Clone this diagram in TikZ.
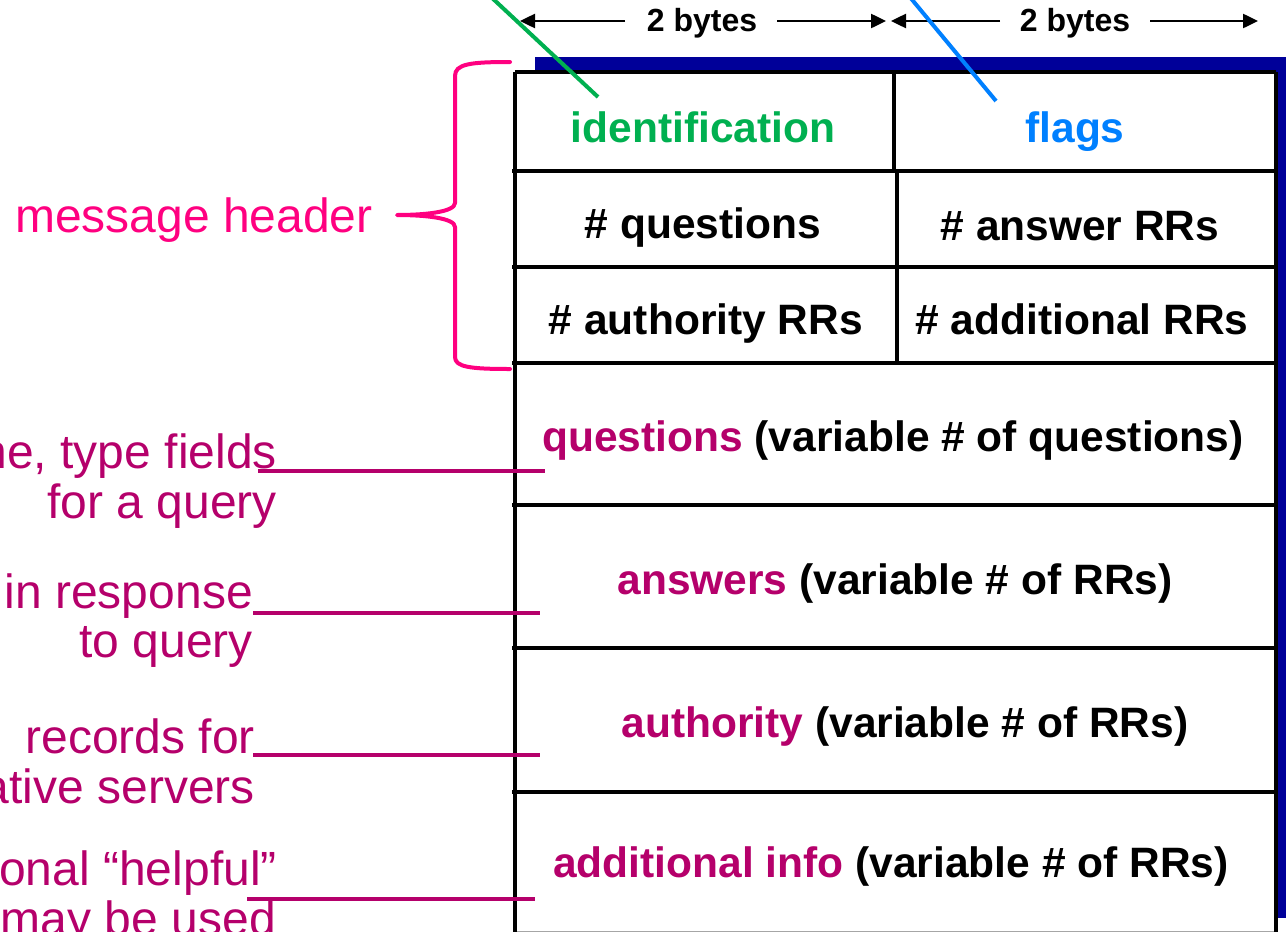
\documentclass[tikz,border=0pt]{standalone}
\usepackage{fontspec}
\setmainfont{Liberation Sans}
\usetikzlibrary{arrows.meta}

\definecolor{hdrpink}{RGB}{255,0,128}
\definecolor{secmag}{RGB}{181,0,107}
\definecolor{idgreen}{RGB}{0,176,80}
\definecolor{flagblue}{RGB}{0,128,255}
\definecolor{shadownavy}{RGB}{0,0,153}

\newcommand\fieldfont{\fontsize{42.5}{50}\selectfont\bfseries}
\newcommand\notefont{\fontsize{48}{55}\selectfont}
\newcommand\sizefont{\fontsize{32}{38}\selectfont\bfseries}

\tikzset{
  field/.style={font=\fieldfont, anchor=base, inner sep=0pt},
  note/.style={font=\notefont, text=secmag, anchor=base east, inner sep=0pt},
  sizelbl/.style={font=\sizefont, anchor=base, inner sep=0pt},
  grid/.style={line width=4.5pt, black},
  dimarrow/.style={line width=2.5pt, -{Triangle[length=15pt,width=14pt]}},
  pointer/.style={line width=4pt, secmag},
}

\begin{document}
\begin{tikzpicture}[x=1pt,y=-1pt]
\useasboundingbox (0,0) rectangle (1286,932);
\clip (0,0) rectangle (1286,932);

% header layout: shadow and message box
\fill[shadownavy] (535,57) rectangle (1290,918);
\fill[white] (515,72) rectangle (1276,932);
\draw[gray!70, line width=1pt] (515,931) -- (1276,931);
\draw[grid] (515,72) -- (1276,72);
\draw[grid] (515,72) -- (515,935);
\draw[grid] (1276,72) -- (1276,935);
\foreach \yy in {171,267,363,505,648,792}
  \draw[grid] (512,\yy) -- (1276,\yy);
\draw[grid] (894,72) -- (894,171);
\draw[grid] (897,171) -- (897,363);

% field names
\node[field, text=idgreen] (ident) at (703,142) {identification};
\node[field, text=flagblue] (flags) at (1075,142) {flags};
\node[field] (nq) at (703,238) {\# questions};
\node[field] (nans) at (1080,240) {\# answer RRs};
\node[field] (nauth) at (706,334) {\# authority RRs};
\node[field] (nadd) at (1082,334) {\# additional RRs};
\node[field] (qsec) at (893,451) {{\color{secmag}questions} (variable \# of questions)};
\node[field] (asec) at (895,594) {{\color{secmag}answers} (variable \# of RRs)};
\node[field] (ausec) at (905,737) {{\color{secmag}authority} (variable \# of RRs)};
\node[field] (adsec) at (891,877) {{\color{secmag}additional info} (variable \# of RRs)};

% field widths
\node[sizelbl] (b1) at (702,31) {2 bytes};
\node[sizelbl] (b2) at (1075,31) {2 bytes};
\coordinate (b1l) at (625,21);
\coordinate (b1r) at (777,21);
\coordinate (b2l) at (1000,21);
\coordinate (b2r) at (1150,21);
\coordinate (t1l) at (520,21);
\coordinate (t1r) at (886,21);
\coordinate (t2l) at (891,21);
\coordinate (t2r) at (1258,21);
\draw[dimarrow] (b1l) -- (t1l);
\draw[dimarrow] (b1r) -- (t1r);
\draw[dimarrow] (b2l) -- (t2l);
\draw[dimarrow] (b2r) -- (t2r);

% callouts for identification and flags
\coordinate (gtop) at (490,-4);
\coordinate (gend) at (598,97);
\coordinate (btop) at (909,-4);
\coordinate (bend) at (996,101);
\draw[idgreen, line width=4pt] (gtop) -- (gend);
\draw[flagblue, line width=4pt] (btop) -- (bend);

% message header brace
\node[font=\notefont, text=hdrpink, anchor=base west, inner sep=0pt] (hdr) at (15,232) {message header};
\coordinate (brtip) at (397,215);
\draw[hdrpink, line width=4pt, line cap=round, line join=round]
  (510,62) .. controls (470,62) and (455,64) .. (455,76)
  -- (455,203) .. controls (455,212) and (425,215) .. (brtip)
  .. controls (425,215) and (455,218) .. (455,227)
  -- (455,357) .. controls (455,367) and (470,369) .. (510,369);

% section notes
\node[note] (n1a) at (277,468) {ne, type fields};
\node[note] (n1b) at (277,518) {for a query};
\node[note] (n2a) at (253,608) {in response};
\node[note] (n2b) at (253,657) {to query};
\node[note] (n3a) at (255,753) {records for};
\node[note] (n3b) at (255,803) {ative servers};
\node[note] (n4a) at (277,885) {onal “helpful”};
\node[note] (n4b) at (276,935) {may be used};

\coordinate (p1s) at (258,471);
\coordinate (p1e) at (545,471);
\coordinate (p2s) at (253,613);
\coordinate (p2e) at (540,613);
\coordinate (p3s) at (253,755);
\coordinate (p3e) at (540,755);
\coordinate (p4s) at (247,899);
\coordinate (p4e) at (535,899);
\draw[pointer] (p1s) -- (p1e);
\draw[pointer] (p2s) -- (p2e);
\draw[pointer] (p3s) -- (p3e);
\draw[pointer] (p4s) -- (p4e);
\end{tikzpicture}
\end{document}
